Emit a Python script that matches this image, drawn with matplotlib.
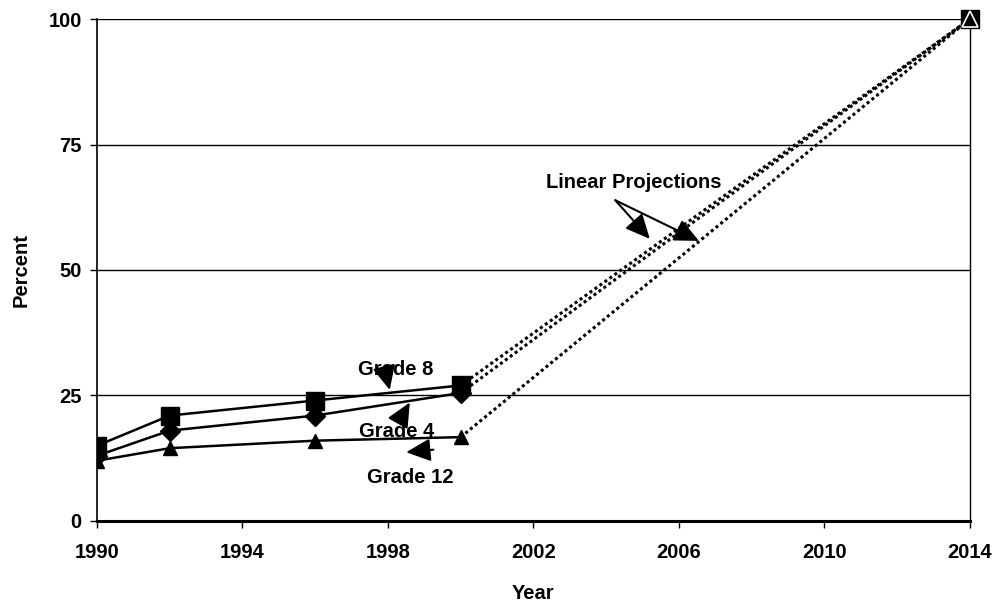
"""Grade-level percentages with linear projections to 2014."""

import matplotlib

matplotlib.use("Agg")

import matplotlib.pyplot as plt  # noqa: E402

plt.rcParams["font.family"] = ["Liberation Sans", "DejaVu Sans"]
plt.rcParams["font.weight"] = "bold"

years = [1990, 1992, 1996, 2000]
grade8 = [15, 21, 24, 27]
grade4 = [13, 18, 21, 25.5]
grade12 = [12, 14.5, 16, 16.7]
target_year = 2014
target_pct = 100

INK = "black"
FS = 14.5

fig = plt.figure(figsize=(9.93, 6.02), dpi=100)
ax = fig.add_axes([0.0977, 0.1346, 0.879, 0.8338])

series = [
    (grade8, "s", 13),
    (grade4, "D", 10),
    (grade12, "^", 10),
]
for vals, mk, ms in series:
    ax.plot(years, vals, color=INK, linewidth=1.8, marker=mk, markersize=ms, zorder=3)
    ax.plot([years[-1], target_year], [vals[-1], target_pct], color=INK,
            linestyle=(0, (1, 1)), linewidth=2.2, zorder=2)

# endpoint: square with a white-edged triangle on top
ax.plot([target_year], [target_pct], color=INK, marker="s", markersize=13,
        linestyle="none", zorder=4, clip_on=False)
ax.plot([target_year], [target_pct], color=INK, marker="^", markersize=11,
        markeredgecolor="white", markeredgewidth=1.2,
        linestyle="none", zorder=5, clip_on=False)

ax.set_xlim(1990, 2014)
ax.set_ylim(0, 100)
ax.set_xticks(range(1990, 2015, 4))
ax.set_yticks([0, 25, 50, 75, 100])
ax.grid(axis="y", color=INK, linewidth=1)
ax.set_axisbelow(True)

ax.spines["top"].set_visible(False)
ax.spines["left"].set_linewidth(1.2)
ax.spines["right"].set_linewidth(1.0)
ax.spines["bottom"].set_linewidth(2.2)
ax.tick_params(axis="both", direction="out", length=5, width=1, labelsize=FS, pad=6)
ax.tick_params(axis="x", pad=11)
for lbl in ax.get_xticklabels() + ax.get_yticklabels():
    lbl.set_fontweight("bold")

ax.set_xlabel("Year", fontsize=FS, fontweight="bold", labelpad=16)
ax.set_ylabel("Percent", fontsize=FS, fontweight="bold", labelpad=13)

arrow = dict(arrowstyle="-|>,head_length=1.5,head_width=0.7", color=INK,
             linewidth=1.5, shrinkA=0, shrinkB=0)

ax.text(1998.2, 30.1, "Grade 8", fontsize=FS, fontweight="bold",
        ha="center", va="center")
ax.annotate("", xy=(1998.05, 26.1), xytext=(1997.95, 29.0), arrowprops=arrow)

ax.text(1998.25, 17.9, "Grade 4", fontsize=FS, fontweight="bold",
        ha="center", va="center")
ax.annotate("", xy=(1998.6, 23.6), xytext=(1998.3, 19.8), arrowprops=arrow)

ax.text(1998.6, 8.6, "Grade 12", fontsize=FS, fontweight="bold",
        ha="center", va="center")
ax.annotate("", xy=(1998.5, 13.7), xytext=(1999.25, 14.2), arrowprops=arrow)

ax.text(2004.76, 67.5, "Linear Projections", fontsize=FS, fontweight="bold",
        ha="center", va="center")
for tip in [(2005.2, 56.2), (2006.55, 55.8)]:
    ax.annotate("", xy=tip, xytext=(2004.25, 63.9), arrowprops=arrow)

fig.savefig("out.png", dpi=100, facecolor="white")
